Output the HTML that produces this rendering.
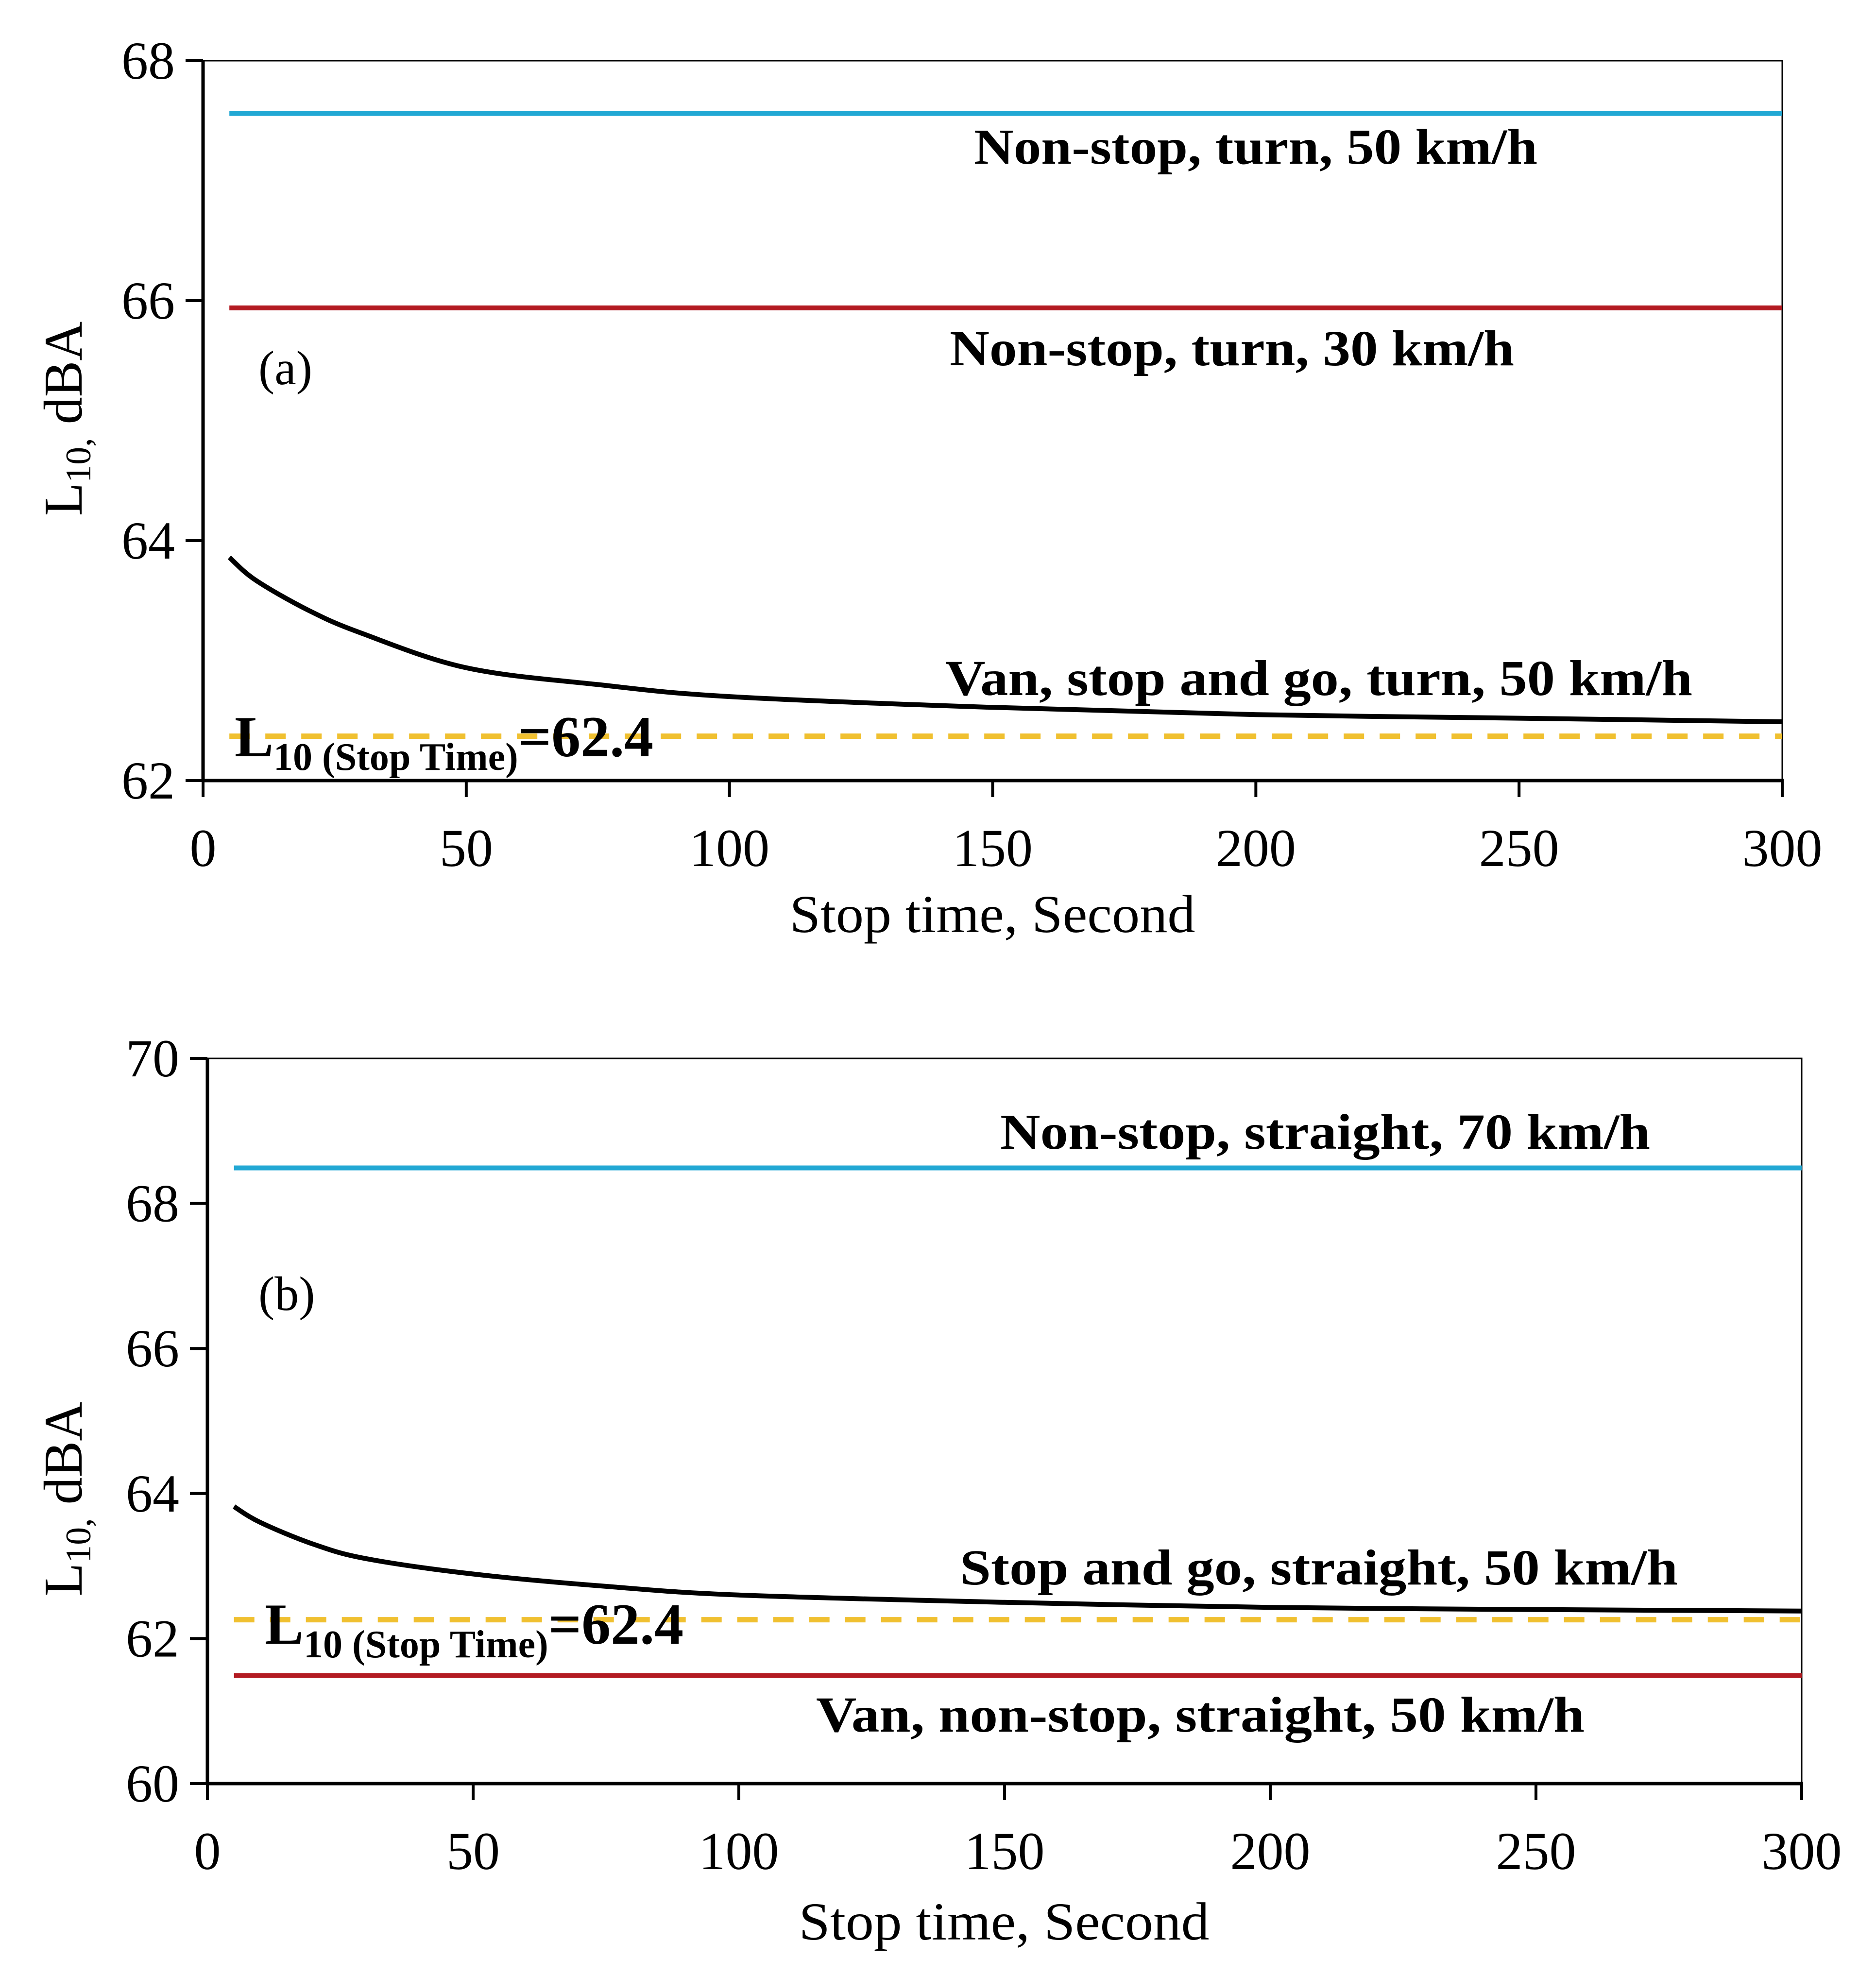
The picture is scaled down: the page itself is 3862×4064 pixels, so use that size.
<!DOCTYPE html>
<html><head><meta charset="utf-8"><style>
html,body{margin:0;padding:0;background:#fff;}
svg{display:block;}
text{font-family:"Liberation Serif",serif;fill:#000;}
</style></head><body>
<svg id="chart" width="3862" height="4064" viewBox="0 0 3862 4064" xmlns="http://www.w3.org/2000/svg">
<rect width="3862" height="4064" fill="#fff"/>
</svg>
<script>
// ---- data: panel (a)
const xTicksA = [0,50,100,150,200,250,300];
const yTicksA = [62,64,66,68];
const curveXA = [5,10,20,30,50,75,100,150,200,250,300];
const curveYA = [63.86,63.67,63.42,63.23,62.94,62.80,62.70,62.61,62.55,62.52,62.49];
const cyanA = 67.56;
const redA = 65.94;
const yellowA = 62.37;
// ---- data: panel (b)
const xTicksB = [0,50,100,150,200,250,300];
const yTicksB = [60,62,64,66,68,70];
const curveXB = [5,10,20,30,50,75,100,150,200,250,300];
const curveYB = [63.82,63.60,63.30,63.10,62.89,62.72,62.60,62.50,62.43,62.40,62.38];
const cyanB = 68.49;
const redB = 61.49;
const yellowB = 62.26;

const NS='http://www.w3.org/2000/svg';
const svg=document.getElementById('chart');
function mk(tag,attrs,parent){const e=document.createElementNS(NS,tag);for(const k in attrs)e.setAttribute(k,attrs[k]);(parent||svg).appendChild(e);return e;}

function smoothPath(pts){
  let d='M'+pts[0][0].toFixed(1)+' '+pts[0][1].toFixed(1);
  for(let i=0;i<pts.length-1;i++){
    const p0=pts[Math.max(0,i-1)],p1=pts[i],p2=pts[i+1],p3=pts[Math.min(pts.length-1,i+2)];
    const c1x=p1[0]+(p2[0]-p0[0])/6,c1y=p1[1]+(p2[1]-p0[1])/6;
    const c2x=p2[0]-(p3[0]-p1[0])/6,c2y=p2[1]-(p3[1]-p1[1])/6;
    d+=` C${c1x.toFixed(1)} ${c1y.toFixed(1)} ${c2x.toFixed(1)} ${c2y.toFixed(1)} ${p2[0].toFixed(1)} ${p2[1].toFixed(1)}`;
  }
  return d;
}

function panel(cfg){
  const g=mk('g',{});
  
  
  const L=cfg.L,R=cfg.R,T=cfg.T,B=cfg.B;
  const sx=v=>L+(v-0)/(300-0)*(R-L);
  const sy=v=>B-(v-cfg.ymin)/(cfg.ymax-cfg.ymin)*(B-T);
  const fr=mk('rect',{x:L,y:T,width:R-L,height:B-T,fill:'none',stroke:'#000','stroke-width':3},g);
  
  
  const ya=mk('line',{x1:L,y1:T,x2:L,y2:B+2,stroke:'#000','stroke-width':7},g);
  
  
  const xa=mk('line',{x1:L-3,y1:B,x2:R+3,y2:B,stroke:'#000','stroke-width':7},g);
  
  
  cfg.yTicks.forEach(v=>{
    const t=mk('line',{x1:L-36,y1:sy(v),x2:L,y2:sy(v),stroke:'#000','stroke-width':6},g);
    
    
    const tx=mk('text',{x:L-58,y:sy(v)+37,'text-anchor':'end','font-size':110},g);
    tx.textContent=v;
    
    
  });
  cfg.xTicks.forEach(v=>{
    const t=mk('line',{x1:sx(v),y1:B,x2:sx(v),y2:B+34,stroke:'#000','stroke-width':6},g);
    
    
    const tx=mk('text',{x:sx(v),y:B+176,'text-anchor':'middle','font-size':110},g);
    tx.textContent=v;
    
    
  });
  const c=mk('line',{x1:sx(5),y1:sy(cfg.cyan),x2:R,y2:sy(cfg.cyan),stroke:'#22a8d4','stroke-width':10},g);
  
  
  const r=mk('line',{x1:sx(5),y1:sy(cfg.red),x2:R,y2:sy(cfg.red),stroke:'#b31b22','stroke-width':10},g);
  
  
  const y=mk('line',{x1:sx(5),y1:sy(cfg.yellow),x2:R,y2:sy(cfg.yellow),stroke:'#f0c030','stroke-width':11,'stroke-dasharray':'42 32'},g);
  
  
  const pts=cfg.cx.map((v,i)=>[sx(v),sy(cfg.cy[i])]);
  const p=mk('path',{d:smoothPath(pts),fill:'none',stroke:'#000','stroke-width':10,'stroke-linejoin':'round'},g);
  
  
  cfg.labels.forEach(lb=>{
    const t=mk('text',{x:lb.x,y:lb.y,'text-anchor':'middle','font-size':104,'font-weight':'bold',textLength:lb.w,lengthAdjust:'spacingAndGlyphs'},g);
    t.textContent=lb.t;
    
    
  });
  const pl=mk('text',{x:532,y:cfg.tagY,'font-size':100},g);
  pl.textContent=cfg.tag;
  
  
  const lt=mk('text',{x:cfg.lx,y:cfg.ly,'font-size':120,'font-weight':'bold'},g);
  
  
  const s1=mk('tspan',{},lt);s1.textContent='L';
  const s2=mk('tspan',{dy:28,'font-size':80},lt);s2.textContent='10 (Stop Time)';
  const s3=mk('tspan',{dy:-28},lt);s3.textContent='=62.4';
  const xt=mk('text',{x:cfg.xtX,y:cfg.xtY,'text-anchor':'middle','font-size':110,textLength:cfg.xtW,lengthAdjust:'spacingAndGlyphs'},g);
  xt.textContent='Stop time, Second';
  
  
  const yt=mk('text',{x:0,y:0,'text-anchor':'middle','font-size':112,transform:`translate(168,${cfg.ytY}) rotate(-90)`},g);
  
  
  const a1=mk('tspan',{},yt);a1.textContent='L';
  const a2=mk('tspan',{dy:18,'font-size':74},yt);a2.textContent='10,';
  const a3=mk('tspan',{dy:-18},yt);a3.textContent=' dBA';
}

panel({name:'panel-a',L:418,R:3669,T:125,B:1607,ymin:62,ymax:68,xTicks:xTicksA,yTicks:yTicksA,
  cx:curveXA,cy:curveYA,cyan:cyanA,red:redA,yellow:yellowA,tag:'(a)',tagY:791,lx:483,ly:1557,
  xtX:2043,xtY:1919,xtW:835,ytY:862,
  labels:[{t:'Non-stop, turn, 50 km/h',x:2585,y:337,w:1160,n:'label-non-stop-turn-50'},
          {t:'Non-stop, turn, 30 km/h',x:2536,y:752,w:1162,n:'label-non-stop-turn-30'},
          {t:'Van, stop and go, turn, 50 km/h',x:2715,y:1431,w:1538,n:'label-van-stop-and-go'}]});
panel({name:'panel-b',L:427,R:3709,T:2179,B:3672,ymin:60,ymax:70,xTicks:xTicksB,yTicks:yTicksB,
  cx:curveXB,cy:curveYB,cyan:cyanB,red:redB,yellow:yellowB,tag:'(b)',tagY:2697,lx:545,ly:3384,
  xtX:2067,xtY:3993,xtW:845,ytY:3086,
  labels:[{t:'Non-stop, straight, 70 km/h',x:2728,y:2365,w:1338,n:'label-non-stop-straight-70'},
          {t:'Stop and go, straight, 50 km/h',x:2715,y:3262,w:1478,n:'label-stop-and-go-straight'},
          {t:'Van, non-stop, straight, 50 km/h',x:2471,y:3565,w:1582,n:'label-van-non-stop-straight'}]});
</script>
</body></html>
